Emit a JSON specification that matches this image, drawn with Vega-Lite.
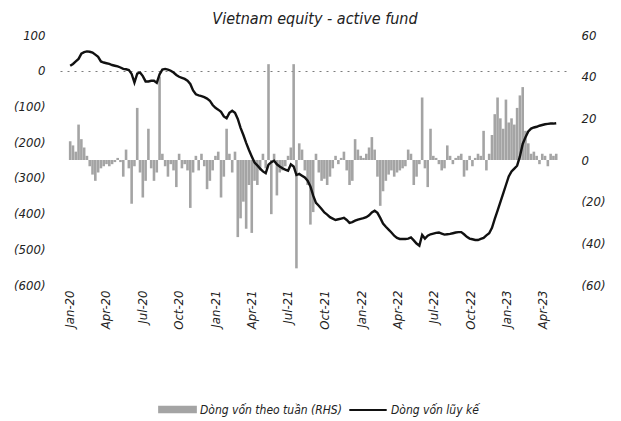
{
  "$schema": "https://vega.github.io/schema/vega-lite/v6.json",
  "width": 510,
  "height": 250,
  "autosize": {"type": "none"},
  "padding": {"left": 60, "top": 35, "right": 51, "bottom": 136},
  "background": "white",
  "title": {"text": "Vietnam equity - active fund", "font": "'DejaVu Sans Condensed', 'Liberation Sans Narrow', 'Liberation Sans', sans-serif", "fontStyle": "italic", "fontWeight": "normal", "fontSize": 16, "color": "#222", "anchor": "middle", "offset": 2},
  "config": {
    "view": {"stroke": null},
    "axis": {"labelFont": "'DejaVu Sans Condensed', 'Liberation Sans Narrow', 'Liberation Sans', sans-serif", "labelFontStyle": "italic", "labelFontSize": 12, "labelColor": "#222", "ticks": false, "domain": false, "grid": false, "title": null}
  },
  "data": {"values": [
    {"d":"2020-01-03","w":9,"c":14},{"d":"2020-01-10","w":7,"c":19},{"d":"2020-01-17","w":4,"c":26},{"d":"2020-01-24","w":17,"c":33},{"d":"2020-01-31","w":10,"c":48},
    {"d":"2020-02-07","w":6,"c":52},{"d":"2020-02-14","w":2,"c":54},{"d":"2020-02-21","w":-3,"c":53},{"d":"2020-02-28","w":-7,"c":51},
    {"d":"2020-03-06","w":-10,"c":45},{"d":"2020-03-13","w":-6,"c":39},{"d":"2020-03-20","w":-4,"c":26},{"d":"2020-03-27","w":-3,"c":23},
    {"d":"2020-04-03","w":-2,"c":21},{"d":"2020-04-10","w":-3,"c":19},{"d":"2020-04-17","w":-2,"c":16},{"d":"2020-04-24","w":-1,"c":14},
    {"d":"2020-05-01","w":1,"c":12},{"d":"2020-05-08","w":-1,"c":9},{"d":"2020-05-15","w":-8,"c":5},{"d":"2020-05-22","w":5,"c":4},{"d":"2020-05-29","w":-4,"c":2},
    {"d":"2020-06-05","w":-21,"c":-9},{"d":"2020-06-12","w":-3,"c":-33},{"d":"2020-06-19","w":25,"c":-8},{"d":"2020-06-26","w":-6,"c":-5},
    {"d":"2020-07-03","w":-18,"c":-15},{"d":"2020-07-10","w":-10,"c":-30},{"d":"2020-07-17","w":15,"c":-30},{"d":"2020-07-24","w":-4,"c":-28},{"d":"2020-07-31","w":-10,"c":-28},
    {"d":"2020-08-07","w":-6,"c":-34},{"d":"2020-08-14","w":40,"c":-10},{"d":"2020-08-21","w":3,"c":3},{"d":"2020-08-28","w":-3,"c":5},
    {"d":"2020-09-04","w":-8,"c":3},{"d":"2020-09-11","w":-2,"c":0},{"d":"2020-09-18","w":-5,"c":-5},{"d":"2020-09-25","w":-13,"c":-12},
    {"d":"2020-10-02","w":3,"c":-17},{"d":"2020-10-09","w":-4,"c":-20},{"d":"2020-10-16","w":-2,"c":-23},{"d":"2020-10-23","w":-5,"c":-28},{"d":"2020-10-30","w":-23,"c":-37},
    {"d":"2020-11-06","w":-6,"c":-55},{"d":"2020-11-13","w":2,"c":-66},{"d":"2020-11-20","w":-5,"c":-69},{"d":"2020-11-27","w":3,"c":-71},
    {"d":"2020-12-04","w":-3,"c":-74},{"d":"2020-12-11","w":-14,"c":-78},{"d":"2020-12-18","w":-10,"c":-84},{"d":"2020-12-25","w":-5,"c":-96},
    {"d":"2021-01-01","w":2,"c":-104},{"d":"2021-01-08","w":4,"c":-109},{"d":"2021-01-15","w":-18,"c":-115},{"d":"2021-01-22","w":-8,"c":-128},{"d":"2021-01-29","w":15,"c":-133},
    {"d":"2021-02-05","w":3,"c":-118},{"d":"2021-02-12","w":-6,"c":-112},{"d":"2021-02-19","w":4,"c":-118},{"d":"2021-02-26","w":-37,"c":-135},
    {"d":"2021-03-05","w":-28,"c":-160},{"d":"2021-03-12","w":-20,"c":-180},{"d":"2021-03-19","w":-33,"c":-202},{"d":"2021-03-26","w":-12,"c":-222},
    {"d":"2021-04-02","w":-35,"c":-240},{"d":"2021-04-09","w":-10,"c":-257},{"d":"2021-04-16","w":-12,"c":-265},{"d":"2021-04-23","w":-5,"c":-274},{"d":"2021-04-30","w":3,"c":-282},
    {"d":"2021-05-07","w":-4,"c":-287},{"d":"2021-05-14","w":46,"c":-263},{"d":"2021-05-21","w":-26,"c":-256},{"d":"2021-05-28","w":3,"c":-252},
    {"d":"2021-06-04","w":-17,"c":-262},{"d":"2021-06-11","w":-6,"c":-268},{"d":"2021-06-18","w":-5,"c":-273},{"d":"2021-06-25","w":-3,"c":-277},
    {"d":"2021-07-02","w":2,"c":-280},{"d":"2021-07-09","w":6,"c":-262},{"d":"2021-07-16","w":46,"c":-268},{"d":"2021-07-23","w":-52,"c":-292},{"d":"2021-07-30","w":8,"c":-289},
    {"d":"2021-08-06","w":5,"c":-294},{"d":"2021-08-13","w":-5,"c":-299},{"d":"2021-08-20","w":-12,"c":-308},{"d":"2021-08-27","w":-31,"c":-324},
    {"d":"2021-09-03","w":-25,"c":-350},{"d":"2021-09-10","w":3,"c":-370},{"d":"2021-09-17","w":-6,"c":-378},{"d":"2021-09-24","w":-10,"c":-387},
    {"d":"2021-10-01","w":-9,"c":-397},{"d":"2021-10-08","w":-12,"c":-403},{"d":"2021-10-15","w":-8,"c":-410},{"d":"2021-10-22","w":-4,"c":-414},{"d":"2021-10-29","w":2,"c":-418},
    {"d":"2021-11-05","w":-2,"c":-416},{"d":"2021-11-12","w":1,"c":-414},{"d":"2021-11-19","w":4,"c":-412},{"d":"2021-11-26","w":-5,"c":-418},
    {"d":"2021-12-03","w":-12,"c":-426},{"d":"2021-12-10","w":-10,"c":-424},{"d":"2021-12-17","w":10,"c":-420},{"d":"2021-12-24","w":5,"c":-417},{"d":"2021-12-31","w":2,"c":-415},
    {"d":"2022-01-07","w":1,"c":-413},{"d":"2022-01-14","w":3,"c":-410},{"d":"2022-01-21","w":6,"c":-405},{"d":"2022-01-28","w":11,"c":-397},
    {"d":"2022-02-04","w":5,"c":-392},{"d":"2022-02-11","w":-8,"c":-398},{"d":"2022-02-18","w":-22,"c":-412},{"d":"2022-02-25","w":-15,"c":-428},
    {"d":"2022-03-04","w":-10,"c":-437},{"d":"2022-03-11","w":-7,"c":-445},{"d":"2022-03-18","w":-5,"c":-453},{"d":"2022-03-25","w":-8,"c":-462},
    {"d":"2022-04-01","w":-6,"c":-468},{"d":"2022-04-08","w":-5,"c":-471},{"d":"2022-04-15","w":-4,"c":-471},{"d":"2022-04-22","w":-3,"c":-471},{"d":"2022-04-29","w":5,"c":-470},
    {"d":"2022-05-06","w":3,"c":-467},{"d":"2022-05-13","w":-12,"c":-475},{"d":"2022-05-20","w":-8,"c":-484},{"d":"2022-05-27","w":-2,"c":-490},
    {"d":"2022-06-03","w":30,"c":-460},{"d":"2022-06-10","w":-4,"c":-470},{"d":"2022-06-17","w":-13,"c":-462},{"d":"2022-06-24","w":15,"c":-458},
    {"d":"2022-07-01","w":2,"c":-456},{"d":"2022-07-08","w":1,"c":-454},{"d":"2022-07-15","w":-2,"c":-453},{"d":"2022-07-22","w":-5,"c":-456},{"d":"2022-07-29","w":-4,"c":-459},
    {"d":"2022-08-05","w":7,"c":-458},{"d":"2022-08-12","w":2,"c":-457},{"d":"2022-08-19","w":-2,"c":-455},{"d":"2022-08-26","w":1,"c":-453},
    {"d":"2022-09-02","w":2,"c":-452},{"d":"2022-09-09","w":3,"c":-452},{"d":"2022-09-16","w":-8,"c":-458},{"d":"2022-09-23","w":-5,"c":-465},{"d":"2022-09-30","w":2,"c":-470},
    {"d":"2022-10-07","w":-3,"c":-472},{"d":"2022-10-14","w":1,"c":-474},{"d":"2022-10-21","w":3,"c":-474},{"d":"2022-10-28","w":2,"c":-471},
    {"d":"2022-11-04","w":14,"c":-468},{"d":"2022-11-11","w":-5,"c":-461},{"d":"2022-11-18","w":3,"c":-455},{"d":"2022-11-25","w":12,"c":-440},
    {"d":"2022-12-02","w":22,"c":-415},{"d":"2022-12-09","w":30,"c":-392},{"d":"2022-12-16","w":20,"c":-368},{"d":"2022-12-23","w":15,"c":-344},{"d":"2022-12-30","w":29,"c":-320},
    {"d":"2023-01-06","w":18,"c":-296},{"d":"2023-01-13","w":20,"c":-282},{"d":"2023-01-20","w":17,"c":-274},{"d":"2023-01-27","w":25,"c":-266},
    {"d":"2023-02-03","w":31,"c":-240},{"d":"2023-02-10","w":35,"c":-205},{"d":"2023-02-17","w":14,"c":-186},{"d":"2023-02-24","w":8,"c":-170},
    {"d":"2023-03-03","w":3,"c":-162},{"d":"2023-03-10","w":4,"c":-159},{"d":"2023-03-17","w":2,"c":-157},{"d":"2023-03-24","w":-2,"c":-154},{"d":"2023-03-31","w":3,"c":-152},
    {"d":"2023-04-07","w":2,"c":-150},{"d":"2023-04-14","w":-3,"c":-149},{"d":"2023-04-21","w":3,"c":-148},{"d":"2023-04-28","w":2,"c":-148},
    {"d":"2023-05-05","w":3,"c":-147}
  ]},
  "encoding": {
    "x": {"field": "d", "type": "temporal",
      "scale": {"type": "utc", "domain": [{"year": 2019, "month": 12, "date": 21, "utc": true}, {"year": 2023, "month": 5, "date": 27, "utc": true}]},
      "axis": {"labelExpr": "utcFormat(datum.value, '%b-%y')", "labelAngle": 270, "labelPadding": 5, "labelFontSize": 13,
        "values": [
          {"year": 2020, "month": 1, "date": 1, "utc": true}, {"year": 2020, "month": 4, "date": 1, "utc": true}, {"year": 2020, "month": 7, "date": 1, "utc": true}, {"year": 2020, "month": 10, "date": 1, "utc": true},
          {"year": 2021, "month": 1, "date": 1, "utc": true}, {"year": 2021, "month": 4, "date": 1, "utc": true}, {"year": 2021, "month": 7, "date": 1, "utc": true}, {"year": 2021, "month": 10, "date": 1, "utc": true},
          {"year": 2022, "month": 1, "date": 1, "utc": true}, {"year": 2022, "month": 4, "date": 1, "utc": true}, {"year": 2022, "month": 7, "date": 1, "utc": true}, {"year": 2022, "month": 10, "date": 1, "utc": true},
          {"year": 2023, "month": 1, "date": 1, "utc": true}, {"year": 2023, "month": 4, "date": 1, "utc": true}
        ]}}
  },
  "layer": [
    {
      "mark": {"type": "bar", "size": 2.6, "opacity": 0.9},
      "encoding": {
        "y": {"field": "w", "type": "quantitative",
          "scale": {"domain": [-60, 60], "nice": false, "zero": false},
          "axis": {"orient": "right", "values": [60, 40, 20, 0, -20, -40, -60], "labelPadding": 11, "labelFontSize": 13,
            "labelExpr": "datum.value < 0 ? '(' + (-datum.value) + ')' : '' + datum.value"}},
        "fill": {"datum": "Dòng vốn theo tuần (RHS)", "type": "nominal",
          "scale": {"range": ["#9a9a9a"]},
          "legend": {"orient": "none", "legendX": 98, "legendY": 355, "title": null, "symbolType": "M-1,-0.2H1V0.2H-1Z", "symbolSize": 1500, "symbolStrokeWidth": 0,
            "labelFont": "'DejaVu Sans Condensed', 'Liberation Sans Narrow', 'Liberation Sans', sans-serif", "labelFontStyle": "italic", "labelFontSize": 12, "labelColor": "#222", "labelOffset": 3}}
      }
    },
    {
      "mark": {"type": "line", "strokeWidth": 2.4, "interpolate": "linear"},
      "encoding": {
        "y": {"field": "c", "type": "quantitative",
          "scale": {"domain": [-600, 100], "nice": false, "zero": false},
          "axis": {"orient": "left", "values": [100, 0, -100, -200, -300, -400, -500, -600], "labelPadding": 15, "labelFontSize": 13,
            "labelExpr": "datum.value < 0 ? '(' + (-datum.value) + ')' : '' + datum.value",
            "grid": true, "gridDash": [2, 5], "gridColor": "#444", "gridWidth": 1,
            "gridOpacity": {"condition": {"test": "datum.value === 0", "value": 0.7}, "value": 0}}},
        "stroke": {"datum": "Dòng vốn lũy kế", "type": "nominal",
          "scale": {"range": ["#111111"]},
          "legend": {"orient": "none", "legendX": 288, "legendY": 355, "title": null, "symbolType": "stroke", "symbolSize": 1400, "symbolStrokeWidth": 2,
            "labelFont": "'DejaVu Sans Condensed', 'Liberation Sans Narrow', 'Liberation Sans', sans-serif", "labelFontStyle": "italic", "labelFontSize": 12, "labelColor": "#222", "labelOffset": 3}}
      }
    }
  ],
  "resolve": {"scale": {"y": "independent", "fill": "independent", "stroke": "independent"}}
}
